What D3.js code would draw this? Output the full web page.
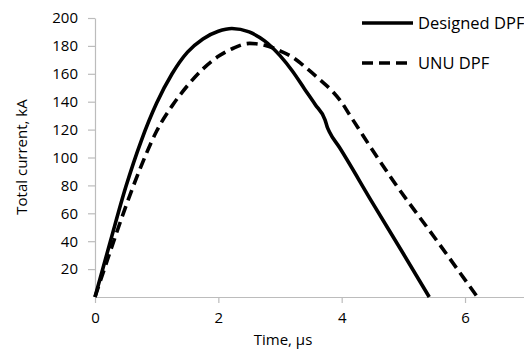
<!DOCTYPE html>
<html>
<head>
<meta charset="utf-8">
<script src="https://cdn.jsdelivr.net/npm/d3@7"></script>
<style>
  body { margin: 0; background: #fff; }
  svg { display: block; font-family: "Open Sans", sans-serif; }
</style>
</head>
<body>
<div id="chart"></div>
<script>
// séries (temps en µs, courant en kA)
const designedT = [0, 0.25, 0.5, 0.75, 1.0, 1.25, 1.5, 1.75, 2.0, 2.22, 2.5, 2.75, 3.0, 3.2, 3.4, 3.57, 3.73, 3.765, 3.80, 3.96, 4.5, 5.0, 5.42];
const designedI = [0, 40, 79, 112, 139, 160, 175.5, 185, 190.5, 192.5, 190, 183.6, 173, 162, 149, 138, 127, 122, 118.5, 107.5, 67.5, 31, 0];

const unuT = [0, 0.25, 0.5, 0.75, 1.0, 1.25, 1.5, 1.75, 2.0, 2.25, 2.51, 2.75, 3.0, 3.2, 3.43, 3.65, 3.86, 4.0, 4.13, 4.27, 4.43, 4.84, 5.5, 6.2];
const unuI = [0, 33, 65, 94, 119, 137, 151.5, 163.5, 172.5, 178.5, 181.8, 180.5, 176.5, 172, 164, 155.6, 147, 139.5, 130.5, 121, 110, 83, 43, 0];

const xTicks = [0, 2, 4, 6];
const yTicks = [20, 40, 60, 80, 100, 120, 140, 160, 180, 200];

const seriesNames = ["Designed DPF", "UNU DPF"];

const width = 524, height = 351;
const margin = { left: 95, top: 18, bottom: 54 };

const svg = d3.select("#chart").append("svg")
  .attr("width", width)
  .attr("height", height);

// échelles
const x = d3.scaleLinear().domain([0, 7]).range([margin.left, margin.left + 7 * 61.67]);
const y = d3.scaleLinear().domain([0, 200]).range([height - margin.bottom, margin.top]);

const grey = "#bcbcbc";

// axe x
const xAxis = svg.append("g")
  .attr("transform", `translate(0, ${y(0)})`)
  .call(d3.axisBottom(x).tickValues(xTicks).tickFormat(d3.format("d")).tickSize(6).tickPadding(9).tickSizeOuter(0));

// axe y
const yAxis = svg.append("g")
  .attr("transform", `translate(${x(0)}, 0)`)
  .call(d3.axisLeft(y).tickValues(yTicks).tickFormat(d3.format("d")).tickSize(7).tickPadding(10).tickSizeOuter(0));

[xAxis, yAxis].forEach(g => {
  g.select(".domain").attr("stroke", grey).attr("stroke-width", 1.2);
  g.selectAll(".tick line").attr("stroke", grey).attr("stroke-width", 1.2);
  g.selectAll(".tick text")
    .attr("fill", "#000")
    .style("font-size", "15px")
    .style("font-family", "'Open Sans', sans-serif");
});

// titres des axes
svg.append("text")
  .attr("x", 283)
  .attr("y", 345)
  .attr("text-anchor", "middle")
  .style("font-size", "15px")
  .text("Time, µs");

svg.append("text")
  .attr("transform", `translate(27, 157) rotate(-90)`)
  .attr("text-anchor", "middle")
  .style("font-size", "15px")
  .text("Total current, kA");

// courbes
const line = d3.line()
  .x(d => x(d[0]))
  .y(d => y(d[1]))
  .curve(d3.curveMonotoneX);

const designed = d3.zip(designedT, designedI);
const unu = d3.zip(unuT, unuI);

svg.append("path")
  .datum(unu)
  .attr("d", line)
  .attr("fill", "none")
  .attr("stroke", "#000")
  .attr("stroke-width", 3.6)
  .attr("stroke-dasharray", "11,6");

svg.append("path")
  .datum(designed)
  .attr("d", line)
  .attr("fill", "none")
  .attr("stroke", "#000")
  .attr("stroke-width", 3.6);

// légende
const legend = svg.append("g");
const legY = [23, 63];

legend.selectAll("line")
  .data(seriesNames)
  .join("line")
  .attr("x1", 362)
  .attr("x2", (d, i) => i === 0 ? 413 : 409)
  .attr("y1", (d, i) => legY[i])
  .attr("y2", (d, i) => legY[i])
  .attr("stroke", "#000")
  .attr("stroke-width", 3.6)
  .attr("stroke-dasharray", (d, i) => i === 0 ? null : "11,6");

legend.selectAll("text")
  .data(seriesNames)
  .join("text")
  .attr("x", 418)
  .attr("y", (d, i) => legY[i])
  .attr("dy", "0.35em")
  .style("font-size", "16.5px")
  .text(d => d);
</script>
</body>
</html>
